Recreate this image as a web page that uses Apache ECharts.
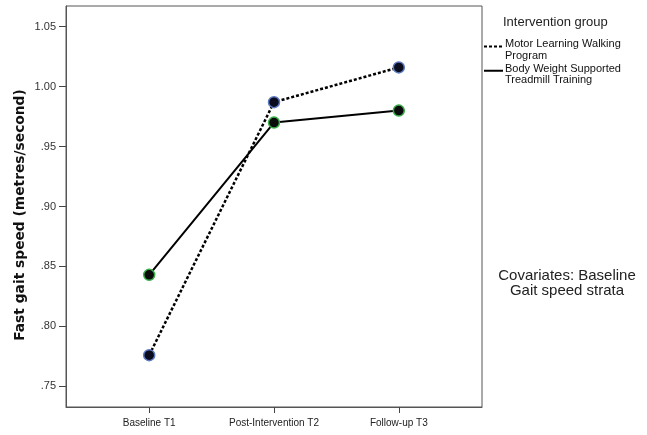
<!DOCTYPE html>
<html>
<head>
<meta charset="utf-8">
<script src="https://cdn.jsdelivr.net/npm/echarts@6/dist/echarts.min.js"></script>
<style>
  html, body { margin: 0; padding: 0; background: #fff; }
  #chart { width: 647px; height: 435px; }
</style>
</head>
<body>
<div id="chart"></div>
<script>
// Time points along the x axis
var timePoints = ['Baseline T1', 'Post-Intervention T2', 'Follow-up T3'];

// Estimated marginal means of fast gait speed (m/s)
var motorLearning = [0.776, 0.987, 1.016];
var bodyWeight = [0.843, 0.970, 0.980];

// Y tick positions
var yTicks = [0.75, 0.80, 0.85, 0.90, 0.95, 1.00, 1.05];

var groupNames = ['Motor Learning Walking\nProgram', 'Body Weight Supported\nTreadmill Training'];

var FONT = '"Liberation Sans", Arial, sans-serif';

function toPairs(values) {
  return values.map(function (v, i) { return [i, v]; });
}

// Legend labels: a small spacer line on top so the key line sits by the first text line
function legendLabel(name) {
  return '{s| }\n' + name.split('\n').map(function (part) {
    return '{t|' + part + '}';
  }).join('\n');
}

var chart = echarts.init(document.getElementById('chart'), null, { renderer: 'canvas' });

chart.setOption({
  animation: false,
  backgroundColor: '#ffffff',
  textStyle: { fontFamily: FONT },
  grid: {
    left: 66, top: 6, right: 165, bottom: 28,
    show: true, borderColor: '#555', borderWidth: 1, backgroundColor: 'transparent'
  },
  title: [{
    text: 'Intervention group',
    left: 503, top: 16, padding: 0,
    textStyle: { fontFamily: FONT, fontSize: 13, fontWeight: 'normal', color: '#222' }
  }, {
    text: 'Covariates: Baseline\nGait speed strata',
    left: 567, top: 268, padding: 0, textAlign: 'center',
    textStyle: { fontFamily: FONT, fontSize: 15, fontWeight: 'normal', color: '#222', lineHeight: 15 }
  }],
  legend: {
    orient: 'vertical',
    left: 483, top: 34,
    itemWidth: 19, itemHeight: 14, itemGap: -3,
    padding: 0,
    itemStyle: { opacity: 0 },
    formatter: legendLabel,
    textStyle: {
      fontFamily: FONT, fontSize: 11, color: '#111', padding: [0, 0, 0, -3],
      rich: {
        s: { fontSize: 2, lineHeight: 7 },
        t: { fontFamily: FONT, fontSize: 11, color: '#111', lineHeight: 11.5 }
      }
    },
    data: groupNames
  },
  graphic: [{
    type: 'text',
    x: 20, y: 215, rotation: Math.PI / 2,
    style: {
      text: 'Fast gait speed (metres/second)',
      font: 'bold 13.8px "DejaVu Sans", Verdana, sans-serif',
      fill: '#111', align: 'center', verticalAlign: 'middle'
    }
  }],
  xAxis: {
    type: 'value',
    min: -2 / 3, max: 8 / 3,
    axisLine: { show: true, onZero: false, lineStyle: { color: '#555', width: 1 } },
    splitLine: { show: false },
    axisTick: { show: true, customValues: [0, 1, 2], length: 6, lineStyle: { color: '#444' } },
    axisLabel: {
      customValues: [0, 1, 2],
      formatter: function (v) { return timePoints[Math.round(v)]; },
      fontFamily: FONT, fontSize: 10, color: '#222', margin: 11
    }
  },
  yAxis: {
    type: 'value',
    min: 0.7328, max: 1.0672,
    axisLine: { show: true, onZero: false, lineStyle: { color: '#555', width: 1 } },
    splitLine: { show: false },
    axisTick: { show: true, customValues: yTicks, length: 7, lineStyle: { color: '#444' } },
    axisLabel: {
      customValues: yTicks,
      formatter: function (v) { return v.toFixed(2).replace(/^0/, ''); },
      fontFamily: FONT, fontSize: 11, color: '#333', margin: 10
    }
  },
  series: [{
    name: groupNames[0],
    type: 'line',
    data: toPairs(motorLearning),
    symbol: 'circle', symbolSize: 11,
    z: 3,
    lineStyle: { color: '#000', width: 2.5, type: [3, 2] },
    itemStyle: { color: '#0b0b1e', borderColor: '#5b78c0', borderWidth: 1.5 }
  }, {
    name: groupNames[1],
    type: 'line',
    data: toPairs(bodyWeight),
    symbol: 'circle', symbolSize: 11,
    z: 2,
    lineStyle: { color: '#000', width: 2, type: 'solid' },
    itemStyle: { color: '#0b0b0b', borderColor: '#3cae4a', borderWidth: 1.5 }
  }]
});
</script>
</body>
</html>
